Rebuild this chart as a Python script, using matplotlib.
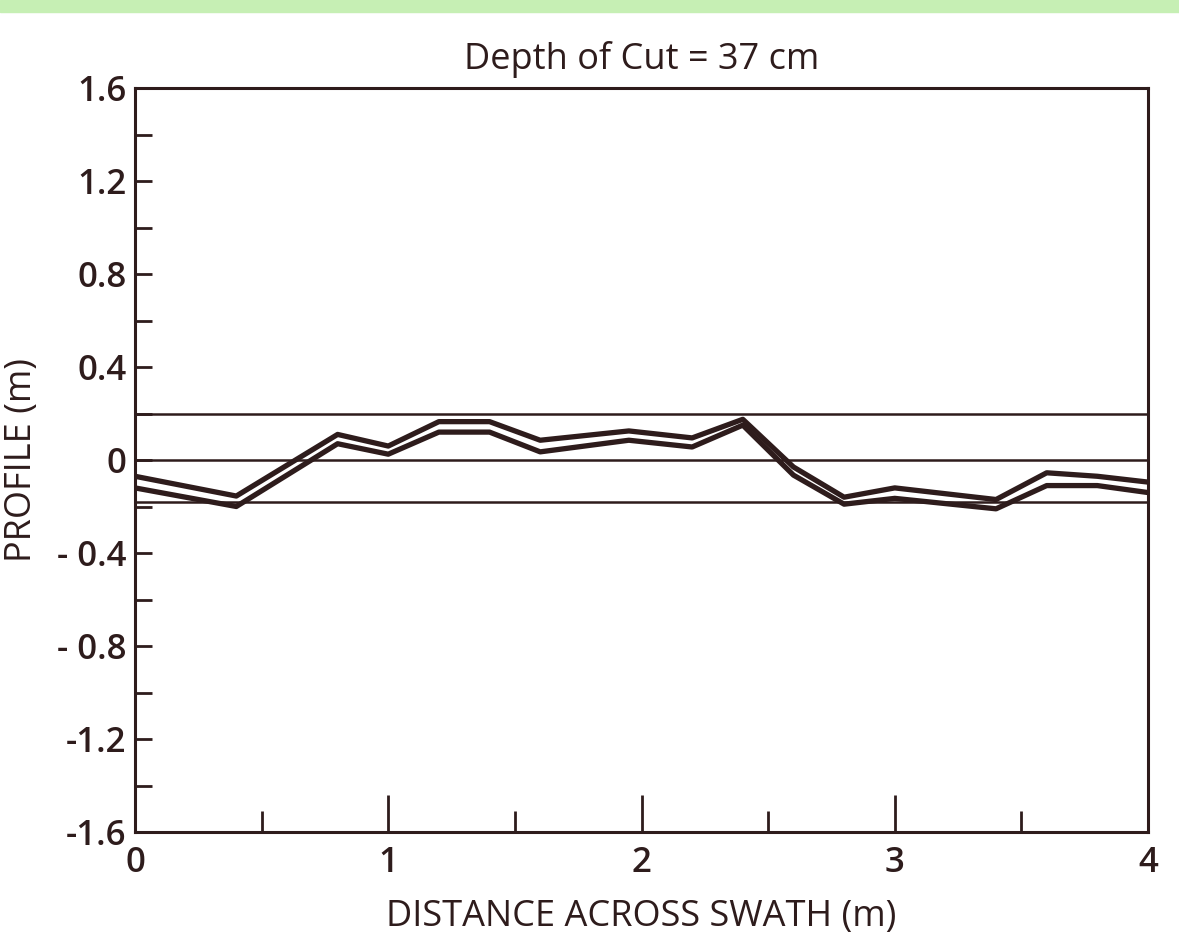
import matplotlib.pyplot as plt
from matplotlib.patches import Rectangle

# profile values
x = [0.0, 0.4, 0.8, 1.0, 1.2, 1.4, 1.6, 1.95, 2.2, 2.4, 2.6, 2.8, 3.0, 3.4, 3.6, 3.8, 4.0]
upper = [-0.07, -0.155, 0.11, 0.06, 0.165, 0.165, 0.085, 0.125, 0.095, 0.175, -0.03, -0.16, -0.12, -0.17, -0.055, -0.07, -0.095]
lower = [-0.12, -0.20, 0.07, 0.025, 0.12, 0.12, 0.035, 0.085, 0.056, 0.15, -0.065, -0.19, -0.165, -0.21, -0.11, -0.11, -0.14]
levels = [0.2, 0.0, -0.18]

ink = '#2e1c1c'
plt.rcParams['font.family'] = ['Open Sans', 'DejaVu Sans']

fig = plt.figure(figsize=(11.79, 9.48), dpi=100)
ax = fig.add_axes([135/1179, 1 - 832/948, 1013/1179, 744/948])

# green strip at the top of the page
fig.patches.append(Rectangle((0, 1 - 12/948), 1, 12/948, transform=fig.transFigure,
                             color='#c6efb4', zorder=0))

for lv in levels:
    ax.axhline(lv, color=ink, lw=1.8)
ax.plot(x, upper, color=ink, lw=3.8)
ax.plot(x, lower, color=ink, lw=3.8)

ax.set_xlim(0, 4)
ax.set_ylim(-1.6, 1.6)
ax.set_xticks([0, 1, 2, 3, 4])
ax.set_xticks([0.5, 1.5, 2.5, 3.5], minor=True)
ax.set_yticks([-1.6, -1.2, -0.8, -0.4, 0, 0.4, 0.8, 1.2, 1.6])
ax.set_yticks([-1.4, -1.0, -0.6, -0.2, 0.2, 0.6, 1.0, 1.4], minor=True)
ax.set_yticklabels(['-1.6', '-1.2', '- 0.8', '- 0.4', '0', '0.4', '0.8', '1.2', '1.6'])

ax.tick_params(axis='x', which='major', direction='in', length=27, width=2, colors=ink,
               labelsize=25, pad=10)
ax.tick_params(axis='x', which='minor', direction='in', length=15, width=2, colors=ink)
ax.tick_params(axis='y', which='both', direction='in', length=12, width=2, colors=ink,
               labelsize=25, pad=6)
ax.tick_params(top=False, right=False, which='both')
for lab in ax.get_xticklabels() + ax.get_yticklabels():
    lab.set_fontweight('semibold')

for s in ax.spines.values():
    s.set_linewidth(2.2)
    s.set_color(ink)

ax.set_title('Depth of Cut = 37 cm', fontsize=26, color=ink, pad=14)
ax.set_xlabel('DISTANCE ACROSS SWATH (m)', fontsize=26, color=ink, labelpad=14)
ax.set_ylabel('PROFILE (m)', fontsize=26, color=ink, labelpad=12)

fig.savefig('out.png', dpi=100)
